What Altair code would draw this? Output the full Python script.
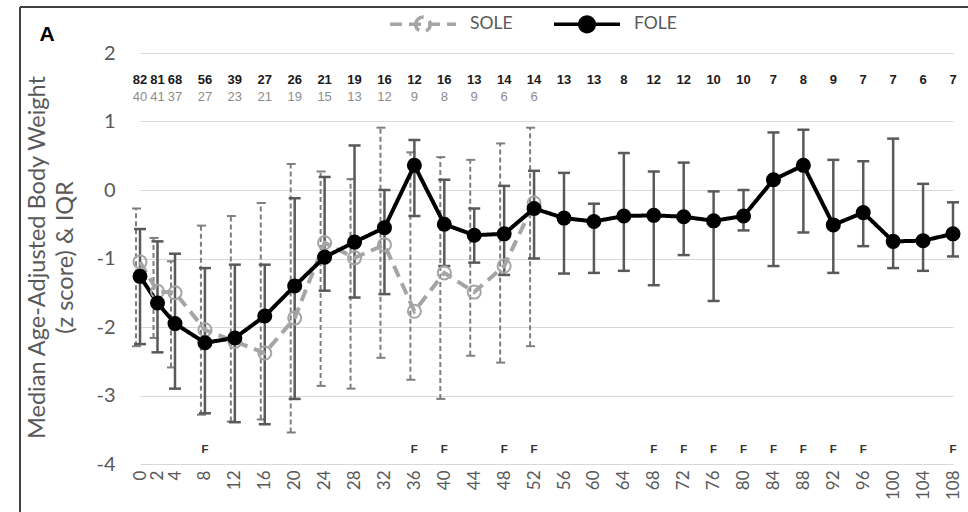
import altair as alt
import pandas as pd

# ---------------- data ----------------
weeks = [0, 2, 4, 8, 12, 16, 20, 24, 28, 32, 36, 40, 44, 48, 52,
         56, 60, 64, 68, 72, 76, 80, 84, 88, 92, 96, 100, 104, 108]

fole_median = [-1.26, -1.65, -1.95, -2.23, -2.16, -1.84, -1.40, -0.98, -0.76, -0.55,
               0.36, -0.50, -0.66, -0.64, -0.27, -0.41, -0.46, -0.38, -0.37, -0.39,
               -0.45, -0.38, 0.15, 0.36, -0.51, -0.33, -0.75, -0.74, -0.64]
fole_q1 = [-2.25, -2.37, -2.90, -3.26, -3.39, -3.42, -3.05, -1.47, -1.57, -1.52,
           -0.38, -1.11, -1.06, -1.24, -1.00, -1.22, -1.21, -1.18, -1.39, -0.95,
           -1.62, -0.59, -1.11, -0.62, -1.21, -0.82, -1.14, -1.18, -0.97]
fole_q3 = [-0.57, -0.75, -0.93, -1.14, -1.09, -1.09, -0.12, 0.19, 0.65, 0.00,
           0.73, 0.15, -0.27, 0.06, 0.28, 0.25, -0.20, 0.54, 0.27, 0.40,
           -0.02, 0.00, 0.84, 0.88, 0.44, 0.42, 0.75, 0.09, -0.18]
fole_n = [82, 81, 68, 56, 39, 27, 26, 21, 19, 16, 12, 16, 13, 14, 14,
          13, 13, 8, 12, 12, 10, 10, 7, 8, 9, 7, 7, 6, 7]

sole_weeks = weeks[:15]
sole_median = [-1.05, -1.48, -1.50, -2.04, -2.21, -2.38, -1.87, -0.77, -0.99, -0.80,
               -1.77, -1.21, -1.49, -1.11, -0.19]
sole_q1 = [-2.28, -2.16, -2.59, -3.28, -3.38, -3.35, -3.54, -2.86, -2.90, -2.45,
           -2.77, -3.05, -2.42, -2.52, -2.28]
sole_q3 = [-0.27, -0.70, -1.04, -0.52, -0.38, -0.19, 0.38, 0.27, 0.16, 0.91,
           0.55, 0.48, 0.44, 0.68, 0.91]
sole_n = [40, 41, 37, 27, 23, 21, 19, 15, 13, 12, 9, 8, 9, 6, 6]

f_weeks = [8, 36, 40, 48, 52, 68, 72, 76, 80, 84, 88, 92, 96, 108]
f_labels = ["F"] * len(f_weeks)

series_names = ["SOLE", "FOLE"]
y_ticks = [-4, -3, -2, -1, 0, 1, 2]
y_title = ["Median Age-Adjusted Body Weight", "(z score) & IQR"]
panel_label = ["A"]

# ---------------- tables ----------------
sole = pd.DataFrame({"week": sole_weeks, "med": sole_median, "q1": sole_q1,
                     "q3": sole_q3, "n": sole_n, "series": "SOLE"})
fole = pd.DataFrame({"week": weeks, "med": fole_median, "q1": fole_q1,
                     "q3": fole_q3, "n": fole_n, "series": "FOLE"})
both = pd.concat([sole, fole], ignore_index=True)
fdf = pd.DataFrame({"week": f_weeks, "lab": f_labels})
adf = pd.DataFrame({"lab": panel_label})

GRAY_TXT = "#595959"
FONT = "Lato"

x_scale = alt.Scale(domain=[0, 4, 108], range=[3, 38, 816], zero=False, nice=False)
y_scale = alt.Scale(domain=[-4, 2], zero=False, nice=False)

x_axis = alt.Axis(values=weeks, labelAngle=270, labelFontSize=17, labelColor=GRAY_TXT,
                  labelFont=FONT, labelPadding=6, labelOverlap=False, labelFlush=False,
                  labelBound=False, ticks=False, tickSize=0, domain=False, grid=False,
                  title=None)
y_axis = alt.Axis(values=y_ticks, labelExpr="'' + datum.value", labelFontSize=20,
                  labelColor=GRAY_TXT, labelFont=FONT,
                  labelPadding=22, ticks=False, tickSize=0, domain=False, grid=True,
                  gridColor="#d9d9d9", gridWidth=1.2, title=y_title, titleFont=FONT,
                  titleFontSize=23.5, titleFontWeight="normal", titleColor=GRAY_TXT,
                  titleAngle=270, titleX=-93, titleY=204, titleAlign="center",
                  titleBaseline="alphabetic", titleLineHeight=28)


def X():
    return alt.X("week:Q", scale=x_scale, axis=x_axis)


def Y(field):
    return alt.Y(field, scale=y_scale, axis=y_axis)


legend = alt.Legend(
    title=None, orient="none", legendX=251, legendY=-64, direction="horizontal",
    symbolType="M-1,0H1M-0.22,0A0.22,0.22,0,1,1,0.22,0A0.22,0.22,0,1,1,-0.22,0Z",
    symbolSize=4356, symbolStrokeWidth=3.5, symbolOpacity=1,
    labelFont=FONT, labelFontSize=17.5, labelColor=GRAY_TXT, labelOffset=12,
    columnPadding=34, padding=0)

color_enc = alt.Color("series:N", scale=alt.Scale(domain=series_names,
                                                  range=["#a5a5a5", "#000000"]),
                      legend=legend)
dash_enc = alt.StrokeDash("series:N", scale=alt.Scale(domain=series_names,
                                                      range=[[12, 7], [1, 0]]),
                          legend=legend)
fill_enc = alt.Fill("series:N", scale=alt.Scale(domain=series_names,
                                                range=["transparent", "#000000"]),
                    legend=legend)

# SOLE error bars (dashed, slightly left)
sole_bar = alt.Chart(sole).mark_rule(color="#7f7f7f", strokeWidth=2, strokeDash=[5, 3],
                                     xOffset=-4).encode(
    x=X(), y=Y("q1:Q"), y2="q3:Q")
sole_cap_lo = alt.Chart(sole).mark_rule(color="#7f7f7f", strokeWidth=2,
                                        xOffset=-8, x2Offset=1).encode(
    x=X(), x2="week:Q", y=Y("q1:Q"))
sole_cap_hi = alt.Chart(sole).mark_rule(color="#7f7f7f", strokeWidth=2,
                                        xOffset=-8, x2Offset=1).encode(
    x=X(), x2="week:Q", y=Y("q3:Q"))

# FOLE error bars
fole_bar = alt.Chart(fole).mark_rule(color="#595959", strokeWidth=2.5).encode(
    x=X(), y=Y("q1:Q"), y2="q3:Q")
fole_cap_lo = alt.Chart(fole).mark_rule(color="#595959", strokeWidth=2.5,
                                        xOffset=-6, x2Offset=6).encode(
    x=X(), x2="week:Q", y=Y("q1:Q"))
fole_cap_hi = alt.Chart(fole).mark_rule(color="#595959", strokeWidth=2.5,
                                        xOffset=-6, x2Offset=6).encode(
    x=X(), x2="week:Q", y=Y("q3:Q"))

lines = alt.Chart(both).mark_line(strokeWidth=4).encode(
    x=X(), y=Y("med:Q"),
    color=color_enc, strokeDash=dash_enc, detail="series:N")

points = alt.Chart(both).mark_point(size=170, strokeWidth=2, opacity=1,
                                    filled=False).encode(
    x=X(), y=Y("med:Q"),
    color=color_enc, fill=fill_enc)

fole_counts = alt.Chart(fole).mark_text(font="Liberation Sans", fontSize=13,
                                        fontWeight="bold", color="#1a1a1a",
                                        baseline="middle").encode(
    x=X(), y=alt.value(27), text="n:Q")
sole_counts = alt.Chart(sole).mark_text(font="Liberation Sans", fontSize=13,
                                        color="#8c8c8c", baseline="middle").encode(
    x=X(), y=alt.value(44), text="n:Q")

f_marks = alt.Chart(fdf).mark_text(font="Liberation Sans", fontSize=11.5,
                                   fontWeight="bold", color="#333333",
                                   baseline="middle").encode(
    x=X(), y=alt.value(397), text="lab:N")

panel = alt.Chart(adf).mark_text(font="Liberation Sans", fontSize=21, fontWeight="bold",
                                 color="#000000", baseline="middle").encode(
    x=alt.value(-90), y=alt.value(-18), text="lab:N")

frame_left = alt.Chart(adf).mark_rule(color="#404040", strokeWidth=2).encode(
    x=alt.value(-117), y=alt.value(-46), y2=alt.value(470))
frame_top = alt.Chart(adf).mark_rule(color="#404040", strokeWidth=2).encode(
    x=alt.value(-117), x2=alt.value(840), y=alt.value(-46))

chart = alt.layer(
    sole_bar, sole_cap_lo, sole_cap_hi, fole_bar, fole_cap_lo, fole_cap_hi,
    lines, points, fole_counts, sole_counts, f_marks, panel, frame_left, frame_top
).properties(
    width=818, height=411,
    autosize=alt.AutoSizeParams(type="none"),
    padding={"left": 137, "top": 53, "right": 13, "bottom": 48},
    background="white",
).configure_view(stroke=None)

chart.save("out.html", embed_options={"renderer": "svg", "actions": False})
